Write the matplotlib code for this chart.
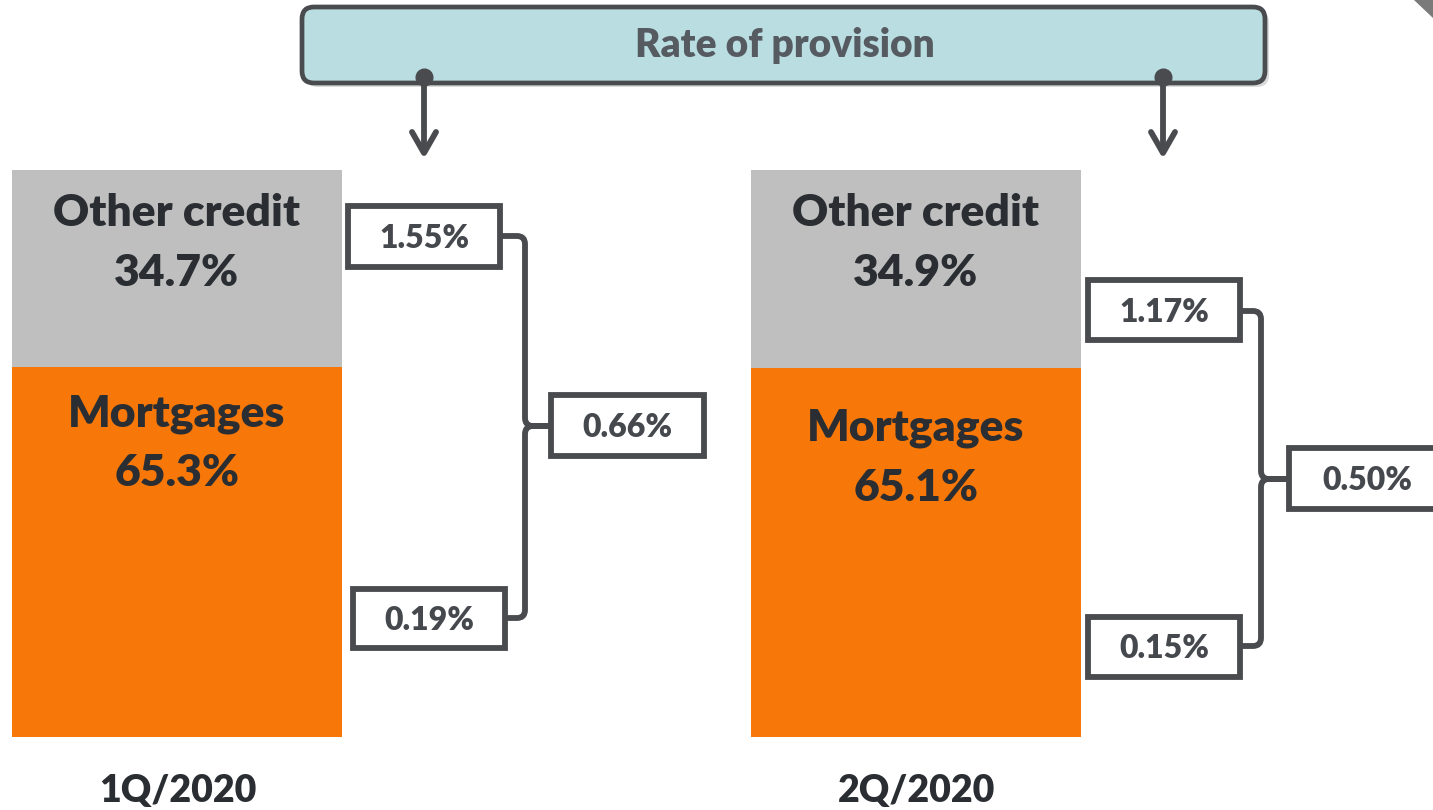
import matplotlib.pyplot as plt
from matplotlib.patches import FancyBboxPatch, Rectangle, PathPatch, Polygon
from matplotlib.path import Path

# data
quarters = ["1Q/2020", "2Q/2020"]
mortgages = [65.3, 65.1]
other_credit = [34.7, 34.9]
rate_other = [1.55, 1.17]
rate_total = [0.66, 0.50]
rate_mortgages = [0.19, 0.15]

GREY = "#BFBFBF"
ORANGE = "#F77808"
DARK = "#2A2E33"
LINE = "#4A4B4F"
FONT = "Lato"
LW = 4.2

W, H = 1433, 810
fig = plt.figure(figsize=(W / 100, H / 100), dpi=100)
fig.patch.set_facecolor("white")

# bar axes: percent scale spanning pixel rows 170..737
bax = fig.add_axes([0, (H - 737) / H, 1, 567 / H])
bax.set_xlim(0, W)
bax.set_ylim(0, 100)
bax.axis("off")

bar_x = [177, 916]
bax.bar(bar_x, mortgages, width=330, color=ORANGE, zorder=2)
bax.bar(bar_x, other_credit, bottom=mortgages, width=330, color=GREY, zorder=2)

# overlay axes in pixel coordinates
ax = fig.add_axes([0, 0, 1, 1])
ax.set_xlim(0, W)
ax.set_ylim(H, 0)
ax.axis("off")
ax.patch.set_alpha(0)

# segment labels
LBL = dict(ha="center", va="center", fontsize=32, fontweight="heavy", color=DARK,
           family=FONT)
mort_label_y = [[414, 473], [428, 488]]
for i, x in enumerate(bar_x):
    ax.text(x, 213, "Other credit", **LBL)
    ax.text(x, 273, f"{other_credit[i]:.1f}%", **LBL)
    ax.text(x, mort_label_y[i][0], "Mortgages", **LBL)
    ax.text(x, mort_label_y[i][1], f"{mortgages[i]:.1f}%", **LBL)
    ax.text(x + 1, 791, quarters[i], ha="center", va="center", fontsize=27,
            fontweight="heavy", color=DARK, family=FONT)


def box(x0, y0, x1, y1, label):
    ax.add_patch(Rectangle((x0, y0), x1 - x0, y1 - y0, facecolor="white",
                           edgecolor=LINE, lw=LW, zorder=4))
    ax.text((x0 + x1) / 2, (y0 + y1) / 2 + 2, label, ha="center", va="center",
            fontsize=23, fontweight="heavy", color="#45484D", family=FONT, zorder=5)


def bracket(xt, yt, xb, yb, xv, xr, ym, r=8):
    top = Path([(xt, yt), (xv - r, yt), (xv, yt), (xv, yt + r), (xv, ym - r),
                (xv, ym), (xv + r, ym), (xr, ym)],
               [Path.MOVETO, Path.LINETO, Path.CURVE3, Path.CURVE3, Path.LINETO,
                Path.CURVE3, Path.CURVE3, Path.LINETO])
    bot = Path([(xr, ym), (xv + r, ym), (xv, ym), (xv, ym + r), (xv, yb - r),
                (xv, yb), (xv - r, yb), (xb, yb)],
               [Path.MOVETO, Path.LINETO, Path.CURVE3, Path.CURVE3, Path.LINETO,
                Path.CURVE3, Path.CURVE3, Path.LINETO])
    for p in (top, bot):
        ax.add_patch(PathPatch(p, facecolor="none", edgecolor=LINE, lw=LW,
                               capstyle="round", joinstyle="round", zorder=3))


# 1Q boxes
box(348, 206, 500, 267, f"{rate_other[0]:.2f}%")
box(551, 395, 704, 456, f"{rate_total[0]:.2f}%")
box(353, 589, 505, 648, f"{rate_mortgages[0]:.2f}%")
bracket(500, 236, 505, 618, 525, 551, 426)

# 2Q boxes
box(1088, 280, 1240, 340, f"{rate_other[1]:.2f}%")
box(1289, 448, 1445, 509, f"{rate_total[1]:.2f}%")
box(1088, 617, 1240, 677, f"{rate_mortgages[1]:.2f}%")
bracket(1240, 311, 1240, 646, 1261, 1289, 479)

# banner
ax.add_patch(FancyBboxPatch((306, 11), 963, 76, boxstyle="round,pad=0,rounding_size=12",
                            facecolor="#9A9A9A", edgecolor="none", alpha=0.35, zorder=5))
ax.add_patch(FancyBboxPatch((302, 7), 963, 76, boxstyle="round,pad=0,rounding_size=12",
                            facecolor="#B9DDE0", edgecolor=LINE, lw=3.4, zorder=6))
ax.text(785, 46, "Rate of provision", ha="center", va="center", fontsize=28,
        fontweight="heavy", color="#555B61", family=FONT, zorder=7)

for x in (424, 1163):
    ax.plot([x], [77], "o", color=LINE, ms=12, zorder=8)
    ax.plot([x, x], [77, 152], color=LINE, lw=LW, zorder=8, solid_capstyle="round")
    ax.plot([x - 12, x, x + 12], [132, 153, 132], color=LINE, lw=LW, zorder=8,
            solid_capstyle="round", solid_joinstyle="round")

# corner decoration top right
ax.add_patch(Polygon([(1414, 0), (1433, 0), (1433, 18)], closed=True,
                     facecolor="#7A7A7A", edgecolor="none", zorder=2))

fig.savefig("out.png", dpi=100, facecolor="white")
